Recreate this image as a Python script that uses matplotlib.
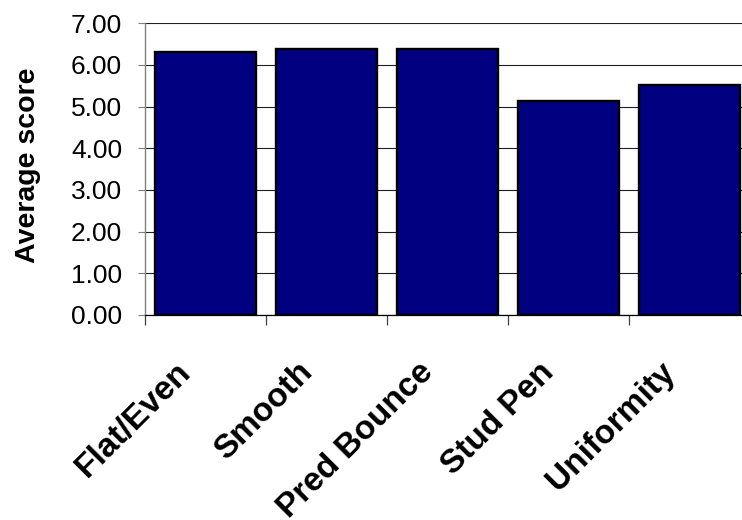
import matplotlib
matplotlib.use('Agg')
import matplotlib.pyplot as plt
import matplotlib.transforms as mtrans
from matplotlib.ticker import FormatStrFormatter

categories = ['Flat/Even', 'Smooth', 'Pred Bounce', 'Stud Pen', 'Uniformity']
scores = [6.32, 6.38, 6.38, 5.14, 5.51]
y_ticks = [0, 1, 2, 3, 4, 5, 6, 7]
y_label = 'Average score'

plt.rcParams['font.family'] = ['Liberation Sans', 'DejaVu Sans']

W, H = 742, 520
fig = plt.figure(figsize=(W / 100, H / 100), dpi=100)
ax = fig.add_axes([145 / W, 205 / H, 605 / W, 291.7 / H])

x = list(range(len(categories)))
ax.bar(x, scores, width=0.83, color='#000080', edgecolor='black',
       linewidth=1.7, zorder=3)

ax.set_xlim(-0.5, len(categories) - 0.5)
ax.set_ylim(0, 7)
ax.set_yticks(y_ticks)
ax.yaxis.set_major_formatter(FormatStrFormatter('%.2f'))
ax.yaxis.grid(True, color='#202020', linewidth=0.8, zorder=0)
ax.set_axisbelow(True)

for s in ['top', 'right']:
    ax.spines[s].set_visible(False)
ax.spines['left'].set_color('#808080')
ax.spines['left'].set_linewidth(1.0)
ax.spines['bottom'].set_color('black')
ax.spines['bottom'].set_linewidth(0.9)

ax.tick_params(axis='y', direction='out', length=5, width=0.8,
               color='#808080', pad=11.5, labelsize=19)

# x: category labels at centers (no tick marks), tick marks at boundaries
ax.set_xticks(x)
ax.set_xticks([i - 0.5 for i in range(len(categories) + 1)], minor=True)
ax.tick_params(axis='x', which='major', length=0, pad=42)
ax.tick_params(axis='x', which='minor', direction='out', length=7.2,
               width=0.9, color='#404040')
ax.set_xticklabels(categories, fontsize=24, fontweight='bold',
                   rotation=45, ha='right', va='baseline',
                   rotation_mode='anchor')
off = mtrans.ScaledTranslation(-13 / 100, 0, fig.dpi_scale_trans)
for lab in ax.get_xticklabels():
    lab.set_transform(lab.get_transform() + off)

ax.set_ylabel(y_label, fontsize=20.5, fontweight='bold')
ax.yaxis.set_label_coords((28 - 145) / 605, (315 - 165) / 291.7)
ax.yaxis.label.set_va('center')

fig.savefig('out.png', dpi=100)
